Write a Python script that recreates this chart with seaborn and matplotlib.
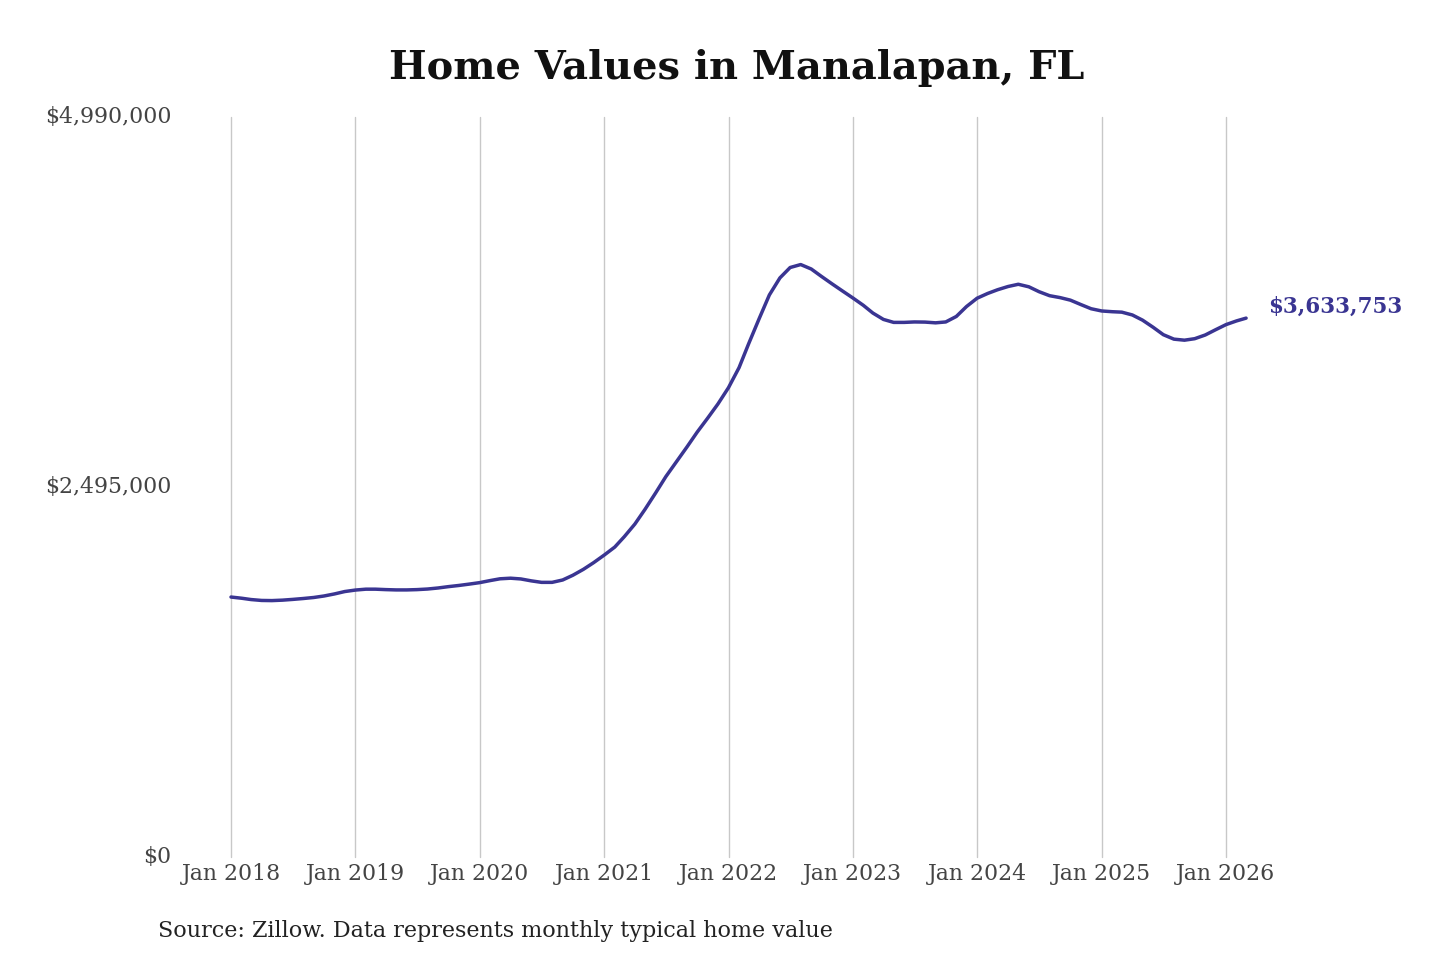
import matplotlib
matplotlib.use("Agg")
import matplotlib.pyplot as plt
import seaborn as sns
import pandas as pd
import numpy as np

# Monthly typical home values (USD), Jan 2018 - Mar 2026
values_2018 = [1753000, 1745000, 1736000, 1730000, 1729000, 1732000, 1737000, 1743000, 1750000, 1760000, 1774000, 1790000]
values_2019 = [1800000, 1806000, 1806000, 1803000, 1801000, 1801000, 1803000, 1807000, 1814000, 1823000, 1831000, 1840000]
values_2020 = [1850000, 1864000, 1876000, 1880000, 1875000, 1862000, 1852000, 1852000, 1868000, 1900000, 1940000, 1985000]
values_2021 = [2036000, 2090000, 2160000, 2245000, 2345000, 2455000, 2565000, 2665000, 2765000, 2865000, 2960000, 3055000]
values_2022 = [3165000, 3300000, 3460000, 3630000, 3790000, 3905000, 3975000, 3995000, 3965000, 3915000, 3865000, 3818000]
values_2023 = [3770000, 3720000, 3668000, 3625000, 3605000, 3605000, 3608000, 3607000, 3602000, 3608000, 3645000, 3712000]
values_2024 = [3768000, 3800000, 3825000, 3847000, 3862000, 3845000, 3812000, 3785000, 3772000, 3755000, 3725000, 3697000]
values_2025 = [3682000, 3677000, 3674000, 3655000, 3620000, 3572000, 3522000, 3492000, 3485000, 3495000, 3520000, 3555000]
values_2026 = [3590000, 3615000, 3633753]

start_month = "2018-01-01"
tick_years = [2018, 2019, 2020, 2021, 2022, 2023, 2024, 2025, 2026]
tick_labels = [f"Jan {y}" for y in tick_years]
y_ticks = [0, 2495000, 4990000]
y_tick_labels = ["$0", "$2,495,000", "$4,990,000"]
title = "Home Values in Manalapan, FL"
source = "Source: Zillow. Data represents monthly typical home value"
last_label = "$3,633,753"

values = (values_2018 + values_2019 + values_2020 + values_2021 + values_2022
          + values_2023 + values_2024 + values_2025 + values_2026)
dates = pd.date_range(start_month, periods=len(values), freq="MS")
df = pd.DataFrame({"date": dates, "value": values})

sns.set_theme(style="white")
plt.rcParams["font.family"] = ["DejaVu Serif", "DejaVu Sans"]

line_color = "#3a3592"

fig = plt.figure(figsize=(14.4, 9.6), dpi=100)
ax = fig.add_axes([231/1440, (960-857)/960, (1226-231)/1440, 740/960])

sns.lineplot(data=df, x="date", y="value", ax=ax, color=line_color,
             linewidth=2.5, clip_on=False, solid_capstyle="round",
             solid_joinstyle="round")

tick_dates = [pd.Timestamp(f"{y}-01-01") for y in tick_years]
ax.set_xlim(tick_dates[0], tick_dates[-1])
ax.set_ylim(0, 4990000)
ax.set_xticks(tick_dates)
ax.set_xticklabels(tick_labels)
ax.set_yticks(y_ticks)
ax.set_yticklabels(y_tick_labels)
ax.set_xlabel("")
ax.set_ylabel("")

for s in ax.spines.values():
    s.set_visible(False)
ax.grid(False)
for d in tick_dates:
    ax.axvline(d, color="#c8c8c8", linewidth=1.0, zorder=0, clip_on=False)

ax.tick_params(axis="x", length=0, pad=4, labelsize=15.8, labelcolor="#444444")
ax.tick_params(axis="y", length=0, pad=43, labelsize=15.8, labelcolor="#444444")
for lbl in ax.get_yticklabels():
    lbl.set_verticalalignment("center")

ax.annotate(last_label, xy=(df["date"].iloc[-1], df["value"].iloc[-1]),
            xytext=(16, 8), textcoords="offset points", ha="left", va="center",
            fontsize=15.5, fontweight="bold", color=line_color, annotation_clip=False)

fig.text(737/1440, 1 - 68/960, title, ha="center", va="center",
         fontsize=28.7, fontweight="bold", color="#111111")
fig.text(158/1440, 1 - 931/960, source, ha="left", va="center",
         fontsize=16, color="#222222")

fig.savefig("out.png", dpi=100, facecolor="white")
